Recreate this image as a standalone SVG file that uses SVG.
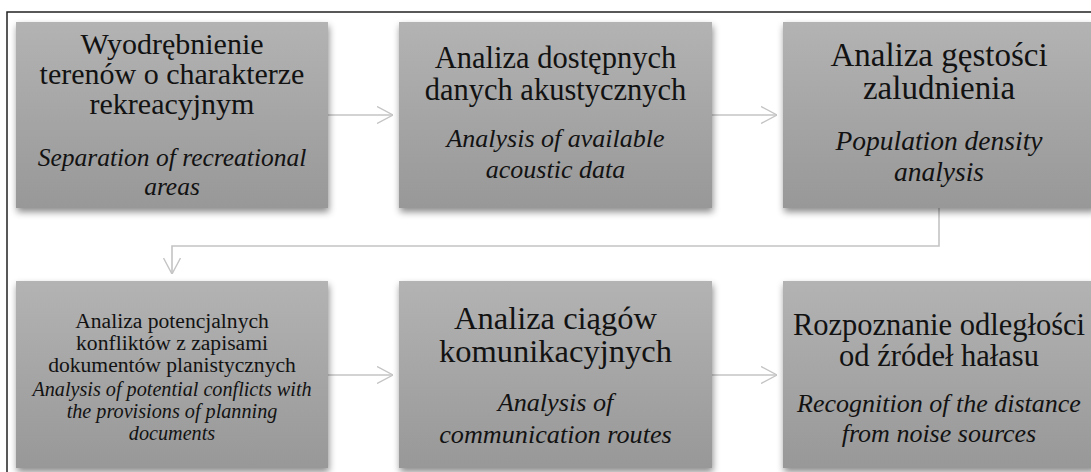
<svg xmlns="http://www.w3.org/2000/svg" width="1091" height="472" viewBox="0 0 1091 472">
  <style>
    .box { fill: url(#g); filter: url(#sh); }
    text { font-family: "Liberation Serif", "Times New Roman", serif; fill: #121212; text-anchor: middle; }
    .it { font-style: italic; }
    .conn { fill: none; stroke: #c4c4c4; stroke-width: 1.6; }
  </style>
  <defs>
    <linearGradient id="g" x1="0" y1="0" x2="0" y2="1">
      <stop offset="0" stop-color="#b3b3b3"/>
      <stop offset="1" stop-color="#989898"/>
    </linearGradient>
    <filter id="sh" x="-10%" y="-10%" width="125%" height="130%">
      <feDropShadow dx="1" dy="4" stdDeviation="3.5" flood-color="#000" flood-opacity="0.45"/>
    </filter>
    <marker id="ah" viewBox="0 0 16 18" refX="16" refY="9" markerWidth="16" markerHeight="18" markerUnits="userSpaceOnUse" orient="auto">
      <path d="M0,0.5 L16,9 L0,17.5" fill="none" stroke="#c4c4c4" stroke-width="1.4"/>
    </marker>
  </defs>
  <rect x="0" y="0" width="1091" height="472" fill="#fff"/>
  <rect x="7" y="12" width="1110" height="500" fill="none" stroke="#222" stroke-width="1.5"/>

  <g id="connectors">
    <path class="conn" d="M328,115 H393" marker-end="url(#ah)"/>
    <path class="conn" d="M712,115 H777" marker-end="url(#ah)"/>
    <path class="conn" d="M939,208 V246 H172 V274" marker-end="url(#ah)"/>
    <path class="conn" d="M328,375 H393" marker-end="url(#ah)"/>
    <path class="conn" d="M712,375 H777" marker-end="url(#ah)"/>
  </g>

  <g id="n1">
    <rect class="box" x="16" y="22" width="312" height="186"/>
    <text x="172" y="54" font-size="30">Wyodrębnienie</text>
    <text x="172" y="84" font-size="30">terenów o charakterze</text>
    <text x="172" y="114" font-size="30">rekreacyjnym</text>
    <text class="it" x="172" y="166" font-size="25.5">Separation of recreational</text>
    <text class="it" x="172" y="195" font-size="25.5">areas</text>
  </g>

  <g id="n2">
    <rect class="box" x="399" y="22" width="313" height="186"/>
    <text x="555.5" y="68" font-size="30.5">Analiza dostępnych</text>
    <text x="555.5" y="100" font-size="30.5">danych akustycznych</text>
    <text class="it" x="555.5" y="147" font-size="26">Analysis of available</text>
    <text class="it" x="555.5" y="178" font-size="26">acoustic data</text>
  </g>

  <g id="n3">
    <rect class="box" x="783" y="22" width="312" height="186"/>
    <text x="939" y="66" font-size="33">Analiza gęstości</text>
    <text x="939" y="99" font-size="33">zaludnienia</text>
    <text class="it" x="939" y="150" font-size="27.5">Population density</text>
    <text class="it" x="939" y="181" font-size="27.5">analysis</text>
  </g>

  <g id="n4">
    <rect class="box" x="16" y="281" width="312" height="187"/>
    <text x="172" y="328" font-size="21.6">Analiza potencjalnych</text>
    <text x="172" y="350" font-size="21.6">konfliktów z zapisami</text>
    <text x="172" y="372" font-size="21.6">dokumentów planistycznych</text>
    <text class="it" x="172" y="396" font-size="20.2">Analysis of potential conflicts with</text>
    <text class="it" x="172" y="418" font-size="20.2">the provisions of planning</text>
    <text class="it" x="172" y="440" font-size="20.2">documents</text>
  </g>

  <g id="n5">
    <rect class="box" x="399" y="281" width="313" height="187"/>
    <text x="555.5" y="329" font-size="32.5">Analiza ciągów</text>
    <text x="555.5" y="362" font-size="32.5">komunikacyjnych</text>
    <text class="it" x="555.5" y="411" font-size="26.2">Analysis of</text>
    <text class="it" x="555.5" y="443" font-size="26.2">communication routes</text>
  </g>

  <g id="n6">
    <rect class="box" x="783" y="281" width="312" height="187"/>
    <text x="939" y="335" font-size="30.5">Rozpoznanie odległości</text>
    <text x="939" y="366" font-size="30.5">od źródeł hałasu</text>
    <text class="it" x="939" y="412" font-size="26">Recognition of the distance</text>
    <text class="it" x="939" y="442" font-size="26">from noise sources</text>
  </g>
</svg>
